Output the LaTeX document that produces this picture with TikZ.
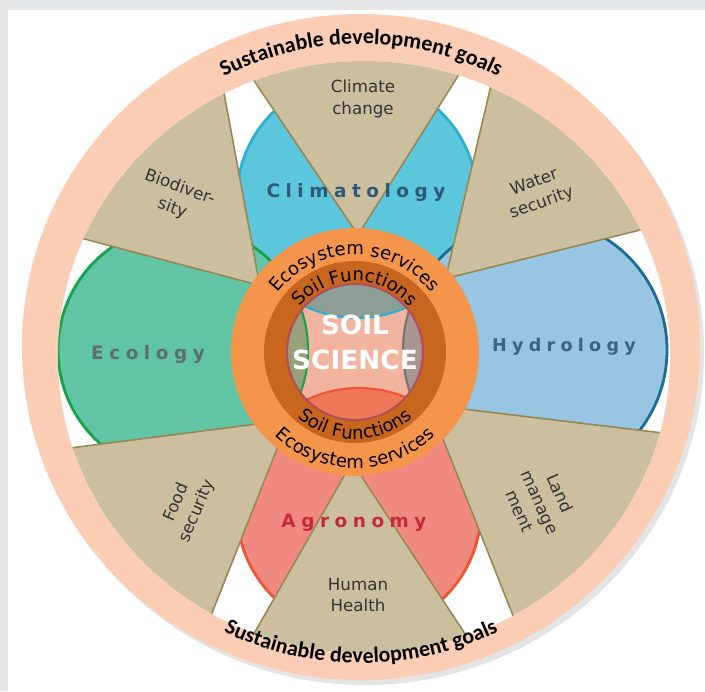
\documentclass[tikz,border=0pt]{standalone}
\usepackage{fontspec}
\setmainfont{DejaVu Sans}
\newfontfamily\goalsfont{Carlito}
\newfontfamily\discfont[LetterSpace=30]{DejaVu Sans}
\usetikzlibrary{decorations.text}

\definecolor{bgGray}{HTML}{E6E7E9}
\definecolor{ringPeach}{HTML}{FACDB4}
\definecolor{wedgeTan}{HTML}{CCBFA0}
\definecolor{wedgeLine}{HTML}{978753}
\definecolor{climFill}{HTML}{5CC6DC}
\definecolor{climLine}{HTML}{2BB0CF}
\definecolor{climText}{HTML}{2D5878}
\definecolor{ecoFill}{HTML}{60C4A5}
\definecolor{ecoLine}{HTML}{13A44A}
\definecolor{ecoText}{HTML}{5E6E6E}
\definecolor{hydFill}{HTML}{98C6E2}
\definecolor{hydLine}{HTML}{1D6C94}
\definecolor{hydText}{HTML}{3C6380}
\definecolor{agrFill}{HTML}{F08A80}
\definecolor{agrLine}{HTML}{EE5530}
\definecolor{agrText}{HTML}{C42A3C}
\definecolor{esOrange}{HTML}{F5954B}
\definecolor{sfOrange}{HTML}{C8661F}
\definecolor{coreFill}{HTML}{F2B49E}
\definecolor{coreLine}{HTML}{B24E58}
\definecolor{coreClim}{HTML}{8D9F97}
\definecolor{coreEco}{HTML}{99A17B}
\definecolor{coreHyd}{HTML}{AA9691}
\definecolor{coreAgr}{HTML}{EE7858}

\begin{document}
\begin{tikzpicture}[x=0.02cm, y=0.02cm,
    wedge/.style={fill=wedgeTan, draw=wedgeLine, line width=0.9pt, line join=round},
    disc/.style={line width=1.6pt},
    wlbl/.style={font=\fontsize{9.5}{12.5}\selectfont, text=black!80, align=center},
    dlbl/.style={font=\discfont\bfseries\fontsize{10.5}{12}\selectfont},
]
\useasboundingbox (-355,-339) rectangle (350,352);

% Page and panel
\fill[bgGray] (-355,-339) rectangle (350,352);
\fill[white] (-347,-339) rectangle (350,342);

% Outer ring of goals
\coordinate (ringc) at (6,5);
\fill[black!30, opacity=0.35] (10,0) ellipse [x radius=339, y radius=333];
\fill[ringPeach] (ringc) ellipse [x radius=339, y radius=333];
\fill[white] (9,-5) ellipse [x radius=306, y radius=296];

\begin{scope}
\clip (9,-5) ellipse [x radius=306, y radius=296];

% Disciplines
\filldraw[fill=climFill, draw=climLine, disc] (2,154) circle (120);
\filldraw[fill=ecoFill, draw=ecoLine, disc] (-172,2) circle (125);
\filldraw[fill=hydFill, draw=hydLine, disc] (180,2) circle (132);
\filldraw[fill=agrFill, draw=agrLine, disc] (4,-158) circle (122);

% Wedges of societal issues
\filldraw[wedge] (3,117) -- (-224,454) -- (215,454) -- cycle;
\filldraw[wedge] (-3,-110) -- (-200,-455) -- (224,-455) -- cycle;
\filldraw[wedge] (90.5,73.4) -- (185.5,476.6) -- (479.5,170.6) -- cycle;
\filldraw[wedge] (-95.3,66.6) -- (-170.7,473.4) -- (-460.7,163.4) -- cycle;
\filldraw[wedge] (74.5,-53) -- (658,-123) -- (280.75,-573) -- cycle;
\filldraw[wedge] (-66.6,-68) -- (-612.6,-138) -- (-257.6,-550.5) -- cycle;
\end{scope}

% Discipline labels
\node[dlbl, text=climText] (climlbl) at (1,160) {Climatology};
\node[dlbl, text=ecoText] (ecolbl) at (-207,-2) {Ecology};
\node[dlbl, text=hydText, font=\discfont\bfseries\fontsize{10}{12}\selectfont] (hydlbl) at (209,5) {Hydrology};
\node[dlbl, text=agrText] (agrlbl) at (-1,-171) {Agronomy};

% Issue labels
\node[wlbl] (climate) at (8,253) {Climate\\change};
\node[wlbl, rotate=-20] (biodiv) at (-179,154) {Biodiver-\\sity};
\node[wlbl, rotate=20] (water) at (183,159) {Water\\security};
\node[wlbl, rotate=-66] (land) at (185,-150) {Land\\manage\\ment};
\node[wlbl, rotate=67] (food) at (-168,-155) {Food\\security};
\node[wlbl] (health) at (3,-243) {Human\\Health};

% Central rings
\fill[esOrange] (0,0) circle (124);
\fill[sfOrange] (0,0) circle (91);
\fill[coreFill] (0,0) circle (68);
\begin{scope}
\clip (0,0) circle (68);
\filldraw[fill=coreClim, draw=climLine, line width=1.2pt] (2,154) circle (120);
\filldraw[fill=coreEco, draw=ecoLine, line width=1.2pt] (-172,2) circle (125);
\filldraw[fill=coreHyd, draw=black!55, line width=1.2pt] (180,2) circle (132);
\filldraw[fill=coreAgr, draw=agrLine, line width=1.2pt] (4,-158) circle (122);
\end{scope}
\draw[coreLine, line width=1.2pt] (0,0) circle (68);
\node[font=\bfseries\fontsize{15}{20}\selectfont, text=white, align=center] (core) at (0,10) {SOIL\\SCIENCE};

% Texts along the rings
\path[decorate, decoration={text along path, text align=center,
    text={|\fontsize{10.3}{12}\selectfont|Ecosystem services}}]
    ([shift={(170:97)}]0,0) arc[start angle=170, end angle=10, radius=97];
\path[decorate, decoration={text along path, text align=center,
    text={|\fontsize{10.3}{12}\selectfont|Soil Functions}}]
    ([shift={(170:71)}]0,0) arc[start angle=170, end angle=10, radius=71];
\path[decorate, decoration={text along path, text align=center,
    text={|\fontsize{10.3}{12}\selectfont|Soil Functions}}]
    ([shift={(190:87)}]0,0) arc[start angle=190, end angle=350, radius=87];
\path[decorate, decoration={text along path, text align=center,
    text={|\fontsize{10.3}{12}\selectfont|Ecosystem services}}]
    ([shift={(190:116)}]0,0) arc[start angle=190, end angle=350, radius=116];

\path[decorate, decoration={text along path, text align=center,
    text={|\goalsfont\bfseries\fontsize{12.5}{15}\selectfont|Sustainable development goals}}]
    ([shift={(150:303)}]ringc) arc[start angle=150, end angle=30, radius=303];
\path[decorate, decoration={text along path, text align=center,
    text={|\goalsfont\bfseries\fontsize{12.5}{15}\selectfont|Sustainable development goals}}]
    ([shift={(210:316)}]ringc) arc[start angle=210, end angle=330, radius=316];

\end{tikzpicture}
\end{document}
